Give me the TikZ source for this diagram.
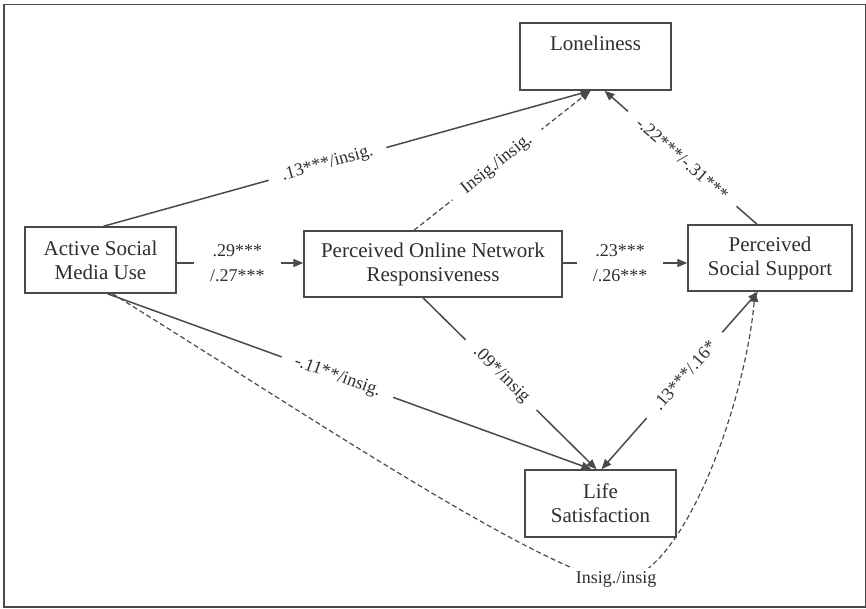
\documentclass[tikz,border=0pt]{standalone}
\usepackage{fontspec}
\setmainfont{Liberation Serif}
\usetikzlibrary{arrows.meta,calc}
\definecolor{lg}{HTML}{4A4A4A}
\definecolor{tg}{HTML}{2E2E2E}
\begin{document}
\begin{tikzpicture}[x=1pt,y=-1pt,
  box/.style={draw=lg,line width=1.5pt,fill=white,text=tg,align=center,
    font=\fontsize{21}{24}\selectfont,inner sep=0pt},
  conn/.style={draw=lg,line width=1.5pt,-{Triangle[length=10pt,width=8pt]}},
  dconn/.style={conn,line width=1.2pt,dash pattern=on 5pt off 3pt},
  lbl/.style={fill=white,text=tg,font=\fontsize{18}{25}\selectfont,
    inner xsep=14pt,inner ysep=1pt,align=center},
  hlbl/.style={lbl,inner xsep=16pt,inner ysep=0pt}]
\useasboundingbox (0,0) rectangle (866,608);
\draw[draw=lg,line width=1.6pt] (4,4.5) rectangle (865.5,607);

\node[box,minimum width=151pt,text height=27pt,text depth=40pt] (lon) at (595.5,56.5) {Loneliness};
\node[box,minimum width=151pt,minimum height=66pt] (asmu) at (100.5,260) {Active Social\\Media Use};
\node[box,minimum width=258pt,minimum height=66pt] (ponr) at (433,264) {Perceived Online Network\\Responsiveness};
\node[box,minimum width=164pt,minimum height=66pt] (pss) at (770,258) {Perceived\\Social Support};
\node[box,minimum width=151pt,minimum height=67pt] (ls) at (600.5,503.5) {Life\\Satisfaction};

% to Loneliness
\draw[conn] ($(asmu.north)+(3,0)$) -- node[lbl,sloped,pos=0.46] (l1) {.13***/insig.} ($(lon.south)+(-5,0)$);
\draw[dconn] ($(ponr.north)+(-19,0)$) -- node[lbl,sloped,pos=0.47] (l2) {Insig./insig.} ($(lon.south)+(-5,0)$);
\draw[conn] ($(pss.north)+(-13,0)$) -- node[lbl,sloped,pos=0.49] (l3) {-.22***/-.31***} ($(lon.south)+(9,0)$);

% horizontal
\draw[conn] ($(asmu.east)+(0,3)$) -- node[hlbl,pos=0.48] (l4) {.29***\\/.27***} ($(ponr.west)+(0,-1)$);
\draw[conn] ($(ponr.east)+(0,-1)$) -- node[hlbl,pos=0.46] (l5) {.23***\\/.26***} ($(pss.west)+(0,5)$);

% to Life Satisfaction
\draw[conn] ($(asmu.south)+(7,0)$) -- node[lbl,sloped,pos=0.475] (l6) {-.11**/insig.} ($(ls.north)+(-9,0)$);
\draw[conn] ($(ponr.south)+(-10,0)$) -- node[lbl,sloped,pos=0.45] (l7) {.09*/insig} ($(ls.north)+(-4,0)$);
\draw[conn,{Triangle[length=10pt,width=8pt]}-{Triangle[length=10pt,width=8pt]}] ($(ls.north)+(1,0)$) -- node[lbl,sloped,pos=0.53] (l8) {.13***/.16*} ($(pss.south)+(-12,0)$);

% dashed curve
\coordinate (cm) at (614,582);
\draw[dconn] ($(asmu.south)+(12,0)$) .. controls (300,410) and (530,565) .. (cm)
  .. controls (682,585) and (746,400) .. ($(pss.south)+(-15,0)$);
\node[lbl,inner xsep=20pt,inner ysep=3pt] (l9) at (616,579) {Insig./insig};
\end{tikzpicture}
\end{document}
